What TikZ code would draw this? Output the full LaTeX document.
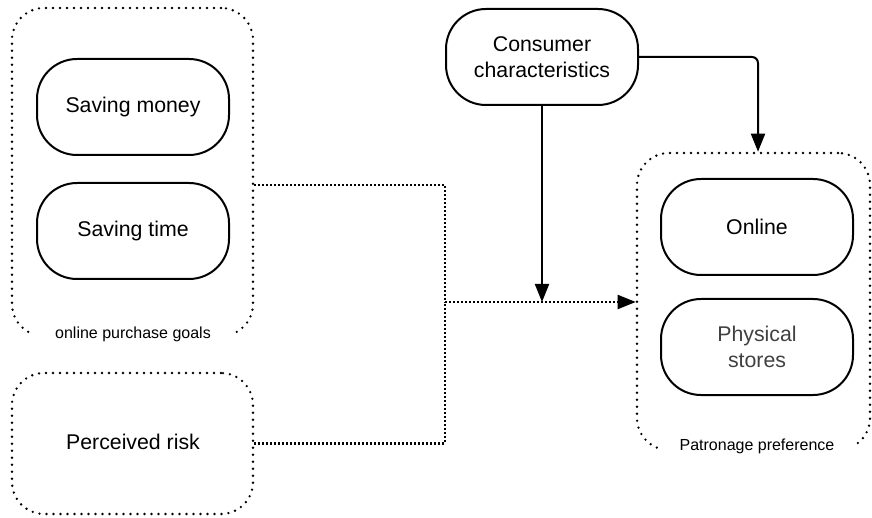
\documentclass[tikz,border=0pt]{standalone}
\usepackage{fontspec}
\setmainfont{Liberation Sans}
\usetikzlibrary{arrows.meta}
\begin{document}
\begin{tikzpicture}[x=1pt,y=-1pt,
  box/.style={draw, line width=2pt, rounded corners=40pt, minimum width=192pt,
    minimum height=96pt, inner sep=0pt, align=center,
    font=\fontsize{21.3}{26}\selectfont},
  grp/.style={draw, line width=2.6pt, line cap=round, dash pattern=on 0pt off 7pt,
    rounded corners=32pt, inner sep=0pt},
  glabel/.style={fill=white, inner xsep=22pt, inner ysep=3pt, font=\fontsize{16}{19}\selectfont},
  conn/.style={line width=2.2pt, dash pattern=on 2pt off 2pt},
  solidarrow/.style={line width=2pt, -{Triangle[length=18pt,width=14pt]}},
]
\useasboundingbox (0,0) rectangle (872,518);
% groups
\node[grp, minimum width=241pt, minimum height=328pt] (g1) at (132.5,172) {};
\node[grp, minimum width=241pt, minimum height=141pt] (g2) at (132.5,443.5) {};
\node[grp, minimum width=233pt, minimum height=297pt] (g3) at (753.5,301.5) {};
\node[glabel] (l1) at (133,334) {online purchase goals};
\node[glabel] (l3) at (757,446) {Patronage preference};
% boxes
\node[box] (sm) at (133,107) {Saving money};
\node[box] (st) at (133,231) {Saving time};
\node[font=\fontsize{21.3}{26}\selectfont] (pr) at (133,442) {Perceived risk};
\node[box] (cc) at (542,57) {Consumer\\characteristics};
\node[box] (on) at (757,227) {Online};
\node[box, text=black!75] (ps) at (757,347) {Physical\\stores};
% connectors
\coordinate (j) at (445,302);
\draw[conn] ([yshift=-13pt]g1.east) -| (j);
\draw[conn] (g2.east) -| (j);
\draw[conn] (j) -- ([xshift=-10pt]g3.west |- j);
\draw[line width=2pt, -{Triangle[length=18pt,width=14pt]}] ([xshift=-12pt]g3.west |- j) -- (g3.west |- j);
\draw[solidarrow] (cc.south) -- (cc.south |- j);
\draw[solidarrow, rounded corners=6pt] (cc.east) -| ([xshift=4.5pt]g3.north);
\end{tikzpicture}
\end{document}
